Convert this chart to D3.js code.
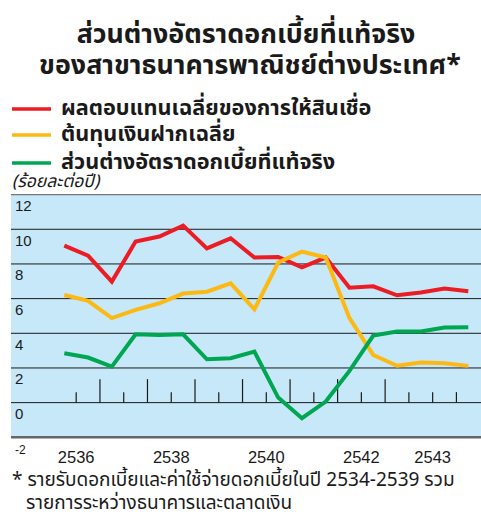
<!DOCTYPE html>
<html>
<head>
<meta charset="utf-8">
<script src="https://cdn.jsdelivr.net/npm/d3@7"></script>
<style>
  body { margin: 0; background: #fff; }
  text { font-family: "Noto Sans Thai", "Noto Sans", "Liberation Sans", sans-serif; fill: #1a1a1a; }
  .num { font-family: "Liberation Sans", Arial, sans-serif; }
</style>
</head>
<body>
<div id="chart"></div>
<script>
// half-year periods, then quarters for 2543
var periods = ["2536H1","2536H2","2537H1","2537H2","2538H1","2538H2","2539H1","2539H2",
               "2540H1","2540H2","2541H1","2541H2","2542H1","2542H2",
               "2543Q1","2543Q2","2543Q3","2543Q4"];
var lending = [9.06, 8.48, 6.98, 9.29, 9.58, 10.21, 8.9, 9.48, 8.37, 8.4, 7.81, 8.37, 6.63, 6.71, 6.19, 6.35, 6.58, 6.42];
var deposit = [6.21, 5.87, 4.88, 5.35, 5.73, 6.29, 6.4, 6.88, 5.38, 8.08, 8.71, 8.37, 4.87, 2.75, 2.13, 2.31, 2.27, 2.12];
var spread  = [2.85, 2.6, 2.08, 3.94, 3.9, 3.94, 2.5, 2.56, 2.94, 0.29, -0.9, 0.06, 1.83, 3.87, 4.1, 4.1, 4.33, 4.35];
var yTicks = [-2, 0, 2, 4, 6, 8, 10, 12];
var yearLabels = ["2536", "2538", "2540", "2542", "2543"];
var seriesNames = ["ผลตอบแทนเฉลี่ยของการให้สินเชื่อ", "ต้นทุนเงินฝากเฉลี่ย", "ส่วนต่างอัตราดอกเบี้ยที่แท้จริง"];
var colors = ["#ec1c24", "#fdb913", "#00a651"];

var W = 481, H = 516;
var svg = d3.select("#chart").append("svg").attr("width", W).attr("height", H);

var x = d3.scalePoint().domain(periods).range([64.3, 468.3]),
    y = d3.scaleLinear().domain([-2, 12]).range([437.3, 194.6]);

// title
var title = svg.append("g").attr("font-weight", "bold").attr("text-anchor", "middle");
title.append("text").attr("x", 246).attr("y", 43).attr("font-size", 26.8).text("ส่วนต่างอัตราดอกเบี้ยที่แท้จริง");
title.append("text").attr("x", 250).attr("y", 74).attr("font-size", 26.8).text("ของสาขาธนาคารพาณิชย์ต่างประเทศ*");

// legend
var legend = svg.selectAll(".legend").data(seriesNames).enter().append("g")
    .attr("class", "legend")
    .attr("transform", function(d, i) { return "translate(0," + [109, 135, 163][i] + ")"; });
legend.append("line").attr("x1", 12).attr("x2", 51)
    .attr("stroke", function(d, i) { return colors[i]; }).attr("stroke-width", 3.5);
legend.append("text").attr("x", 61).attr("y", 6).attr("font-size", 21.7).attr("font-weight", "bold")
    .text(function(d) { return d; });

svg.append("text").attr("x", 12).attr("y", 187).attr("font-size", 17.5).attr("font-style", "italic")
    .text("(ร้อยละต่อปี)");

// plot background
svg.append("rect").attr("x", 11).attr("y", y(12)).attr("width", W - 11).attr("height", y(-2) - y(12))
    .attr("fill", "#c6e8f8");
svg.append("line").attr("x1", 11).attr("x2", W).attr("y1", y(12)).attr("y2", y(12))
    .attr("stroke", "#777").attr("stroke-width", 1.2);

// grid
svg.selectAll(".grid").data(yTicks.filter(function(v) { return v > -2 && v < 12; })).enter().append("line")
    .attr("class", "grid")
    .attr("x1", 11).attr("x2", W)
    .attr("y1", function(d) { return y(d); }).attr("y2", function(d) { return y(d); })
    .attr("stroke", "#1a1a1a").attr("stroke-width", 1);
svg.append("line").attr("x1", 11).attr("x2", W).attr("y1", y(-2)).attr("y2", y(-2))
    .attr("stroke", "#666").attr("stroke-width", 2.5);

// y labels
svg.selectAll(".ylab").data(yTicks).enter().append("text")
    .attr("class", "ylab num")
    .attr("x", 15)
    .attr("y", function(d) { return y(d) + 16.5; })
    .attr("font-size", function(d) { return d < 0 ? 12 : 15; })
    .text(function(d) { return d; });

// period ticks on the zero line: long between years, short inside a year
var tickData = periods.slice(1).map(function(p, i) {
  return { pos: (x(periods[i]) + x(p)) / 2, long: p.slice(0, 4) !== periods[i].slice(0, 4) };
});
svg.selectAll(".ptick").data(tickData).enter().append("line")
    .attr("class", "ptick")
    .attr("x1", function(d) { return d.pos; }).attr("x2", function(d) { return d.pos; })
    .attr("y1", y(0)).attr("y2", function(d) { return y(0) - (d.long ? 23.5 : 10.5); })
    .attr("stroke", "#1a1a1a").attr("stroke-width", 1.2);

// year labels centred on their periods
svg.selectAll(".xlab").data(yearLabels).enter().append("text")
    .attr("class", "xlab num")
    .attr("text-anchor", "middle")
    .attr("font-size", 16.5)
    .attr("x", function(yr) {
      var ps = periods.filter(function(p) { return p.slice(0, 4) === yr; });
      return (x(ps[0]) + x(ps[ps.length - 1])) / 2;
    })
    .attr("y", 462.5)
    .text(function(d) { return d; });

// lines
var line = d3.line()
    .x(function(d, i) { return x(periods[i]); })
    .y(function(d) { return y(d); });

[lending, deposit, spread].forEach(function(s, i) {
  svg.append("path").datum(s)
      .attr("fill", "none")
      .attr("stroke", colors[i])
      .attr("stroke-width", 4)
      .attr("stroke-linejoin", "miter")
      .attr("d", line);
});

// footnote
var note = svg.append("g").attr("font-size", 19);
note.append("text").attr("x", 12).attr("y", 486).text("* รายรับดอกเบี้ยและค่าใช้จ่ายดอกเบี้ยในปี 2534-2539 รวม");
note.append("text").attr("x", 26).attr("y", 508.5).text("รายการระหว่างธนาคารและตลาดเงิน");
</script>
</body>
</html>
